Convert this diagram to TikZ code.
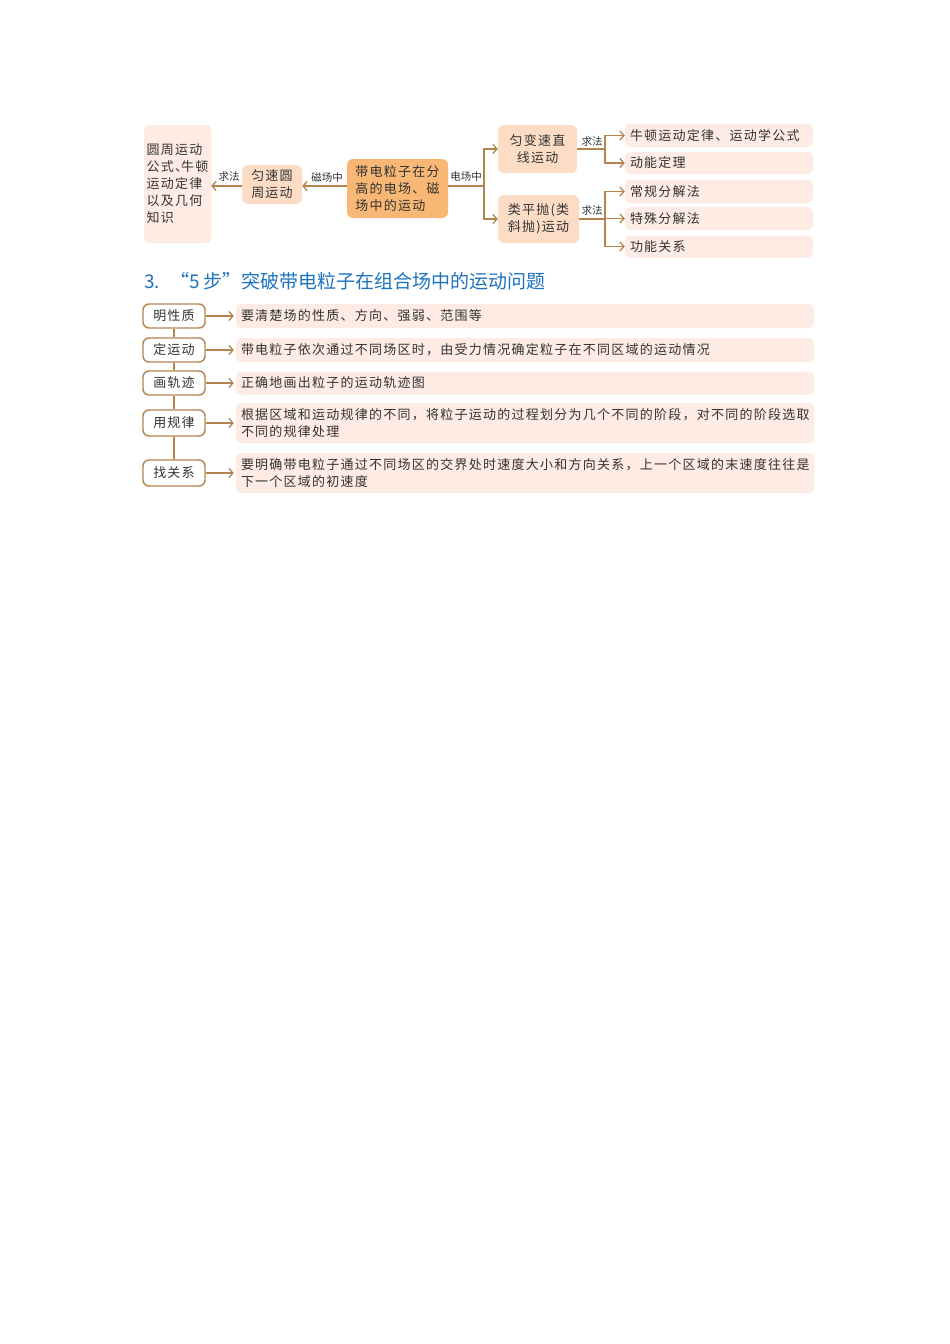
\documentclass[tikz,border=0pt]{standalone}
\usepackage{fontspec}
\setmainfont{Noto Sans CJK SC}
\newfontfamily\boxfont[LetterSpace=9.6]{Noto Sans CJK SC}
\usetikzlibrary{arrows.meta}
\definecolor{pinkL}{HTML}{FDEBE4}
\definecolor{peach}{HTML}{FCDCC5}
\definecolor{orangeC}{HTML}{F8B774}
\definecolor{brownC}{HTML}{B5844E}
\definecolor{txt}{HTML}{333333}
\definecolor{blueC}{HTML}{1E73BE}
\tikzset{
  base/.style={inner sep=0pt, text=txt, font=\boxfont\fontsize{13}{17}\selectfont},
  lbox/.style={base, fill=pinkL, rounded corners=5pt},
  pbox/.style={base, fill=peach, rounded corners=6pt},
  obox/.style={base, fill=orangeC, rounded corners=6pt},
  wbox/.style={base, draw=brownC, line width=1.4pt, fill=white, rounded corners=6pt, minimum width=62pt},
  rowbox/.style={lbox, minimum width=576pt, text width=568pt, inner xsep=5pt, align=left},
  fbox/.style={lbox, minimum width=188pt, text width=178pt, inner xsep=5pt, align=left},
  lab/.style={font=\fontsize{10.5}{12}\selectfont, text=txt, inner sep=1pt},
  conn/.style={draw=brownC, line width=1.3pt},
  arr/.style={conn, -{Straight Barb[length=4pt,width=9pt,line width=1.3pt]}},
}
\begin{document}
\begin{tikzpicture}[x=1pt,y=-1pt]
\useasboundingbox (0,0) rectangle (950,1344);
\fill[white] (0,0) rectangle (950,1344);

% ---------- top map ----------
\node[lbox, minimum width=67pt, minimum height=118pt, align=left] (A) at (177.5,184)
  {圆周运动\\公式、\kern-0.55em牛顿\\运动定律\\以及几何\\知识};
\node[pbox, minimum width=60pt, minimum height=39pt, align=center] (B) at (272,184.5) {匀速圆\\周运动};
\node[obox, minimum width=101pt, minimum height=59pt, align=left] (C) at (397.5,188.5)
  {带电粒子在分\\高的电场、磁\\场中的运动};
\node[pbox, minimum width=79pt, minimum height=48pt, align=center] (D) at (537.5,149) {匀变速直\\线运动};
\node[pbox, minimum width=81pt, minimum height=48pt, align=center] (E) at (538.5,219) {类平抛(类\\斜抛)运动};

\node[fbox, minimum height=23pt] (F1) at (719,135.5) {牛顿运动定律、运动学公式};
\node[fbox, minimum height=22pt] (F2) at (719,163) {动能定理};
\node[fbox, minimum height=23pt] (F3) at (719,191.5) {常规分解法};
\node[fbox, minimum height=23pt] (F4) at (719,218.5) {特殊分解法};
\node[fbox, minimum height=22pt] (F5) at (719,246.5) {功能关系};

\coordinate (ly) at (0,186);
\coordinate (j1) at (484,0);
\coordinate (j2) at (605,0);

\draw[arr] (C.west |- ly) -- (B.east |- ly);
\draw[arr] (B.west |- ly) -- (A.east |- ly);
\node[lab] (l1) at (229,177) {求法};
\node[lab] (l2) at (327,177) {磁场中};
\node[lab] (l3) at (466,177) {电场中};
\node[lab] (l4) at (592,142) {求法};
\node[lab] (l5) at (592,211) {求法};

\draw[conn] (C.east |- ly) -- (j1 |- ly);
\draw[arr] (j1 |- ly) |- (D.west);
\draw[arr] (j1 |- ly) |- (E.west);

\draw[conn] (D.east) -- (j2 |- D.east);
\draw[arr] (j2 |- D.east) |- (F1.west);
\draw[arr] (j2 |- D.east) |- (F2.west);

\draw[conn] (E.east) -- (j2 |- E.east);
\draw[arr] (j2 |- E.east) |- (F3.west);
\draw[arr] (j2 |- F4.west) -- (F4.west);
\draw[arr] (j2 |- E.east) |- (F5.west);

% ---------- heading ----------
\node[anchor=west, inner sep=0pt, text=blueC, font=\fontsize{19}{21}\selectfont] (T) at (144,281)
  {3.\hspace{10pt}“5 步”突破带电粒子在组合场中的运动问题};

% ---------- lower list ----------
\node[wbox, minimum height=24pt] (G1) at (174,316) {明性质};
\node[wbox, minimum height=24pt] (G2) at (174,350) {定运动};
\node[wbox, minimum height=24pt] (G3) at (174,383) {画轨迹};
\node[wbox, minimum height=26pt] (G4) at (174,423) {用规律};
\node[wbox, minimum height=26pt] (G5) at (174,473) {找关系};
\draw[conn] (G1) -- (G2);
\draw[conn] (G2) -- (G3);
\draw[conn] (G3) -- (G4);
\draw[conn] (G4) -- (G5);

\node[rowbox, minimum height=24pt] (H1) at (525,316) {要清楚场的性质、方向、强弱、范围等};
\node[rowbox, minimum height=24pt] (H2) at (525,350) {带电粒子依次通过不同场区时，由受力情况确定粒子在不同区域的运动情况};
\node[rowbox, minimum height=23pt] (H3) at (525,383) {正确地画出粒子的运动轨迹图};
\node[rowbox, minimum height=40pt] (H4) at (525,423)
  {根据区域和运动规律的不同，将粒子运动的过程划分为几个不同的阶段，对不同的阶段选取\\不同的规律处理};
\node[rowbox, minimum height=40pt] (H5) at (525,473)
  {要明确带电粒子通过不同场区的交界处时速度大小和方向关系，上一个区域的末速度往往是\\下一个区域的初速度};

\draw[arr, shorten >=2pt] (G1.east) -- (H1.west);
\draw[arr, shorten >=2pt] (G2.east) -- (H2.west);
\draw[arr, shorten >=2pt] (G3.east) -- (H3.west);
\draw[arr, shorten >=2pt] (G4.east) -- (H4.west);
\draw[arr, shorten >=2pt] (G5.east) -- (H5.west);
\end{tikzpicture}
\end{document}
